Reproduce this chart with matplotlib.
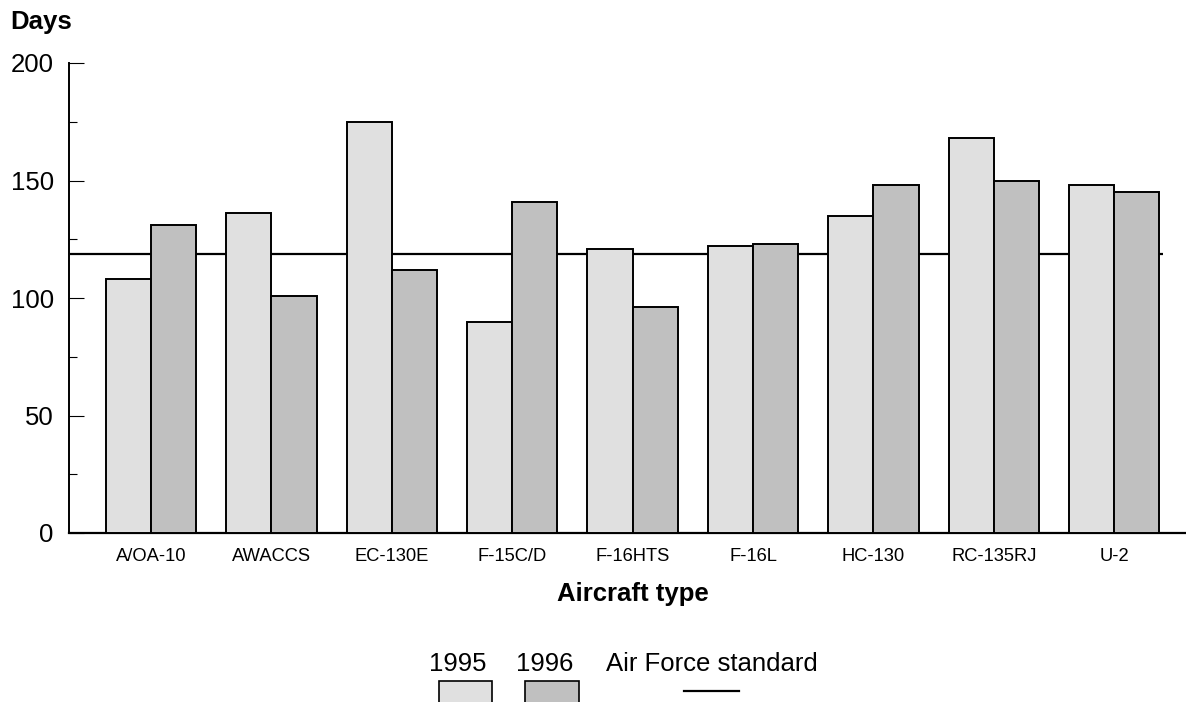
import matplotlib
matplotlib.use("Agg")
import matplotlib.pyplot as plt
from matplotlib import font_manager
from matplotlib.patches import Rectangle
from matplotlib.lines import Line2D
from matplotlib.transforms import blended_transform_factory
import numpy as np

# data
aircraft = ["A/OA-10", "AWACCS", "EC-130E", "F-15C/D", "F-16HTS",
            "F-16L", "HC-130", "RC-135RJ", "U-2"]
days_1995 = [108, 136, 175, 90, 121, 122, 135, 168, 148]
days_1996 = [131, 101, 112, 141, 96, 123, 148, 150, 145]
af_standard = 118.6
years = ["1995", "1996"]
colors = ["#e0e0e0", "#c0c0c0"]

installed = {f.name for f in font_manager.fontManager.ttflist}
narrow = "Liberation Sans Narrow" if "Liberation Sans Narrow" in installed else None
plt.rcParams["font.family"] = ["Liberation Sans", "DejaVu Sans"]

W, H = 1186, 702
fig = plt.figure(figsize=(W / 100, H / 100), dpi=100)
ax = fig.add_axes([69 / W, 1 - 533 / H, 1 - 69 / W, (533 - 63) / H])

x = np.arange(len(aircraft))
bw = 0.375
ax.bar(x - bw / 2, days_1995, bw, color=colors[0], edgecolor="black",
       linewidth=1.4, zorder=3)
ax.bar(x + bw / 2, days_1996, bw, color=colors[1], edgecolor="black",
       linewidth=1.4, zorder=3)
ax.hlines(af_standard, -0.67, 8.405, color="black", linewidth=1.6, zorder=2)

ax.set_xlim(-0.681, 8.596)
ax.set_ylim(0, 200)
for s in ["top", "right"]:
    ax.spines[s].set_visible(False)
ax.spines["left"].set_linewidth(1.4)
ax.spines["bottom"].set_linewidth(1.6)

ax.set_yticks([0, 50, 100, 150, 200])
ax.set_yticks([25, 75, 125, 175], minor=True)
ax.tick_params(axis="y", which="major", direction="in", length=10.5,
               width=0.8, pad=11, labelsize=18.5)
ax.tick_params(axis="y", which="minor", direction="in", length=5.5, width=0.8)

ax.set_xticks(x)
if narrow:
    ax.set_xticklabels(aircraft, fontsize=15, family=narrow)
else:
    ax.set_xticklabels(aircraft, fontsize=13.2)
ax.tick_params(axis="x", length=0, pad=11)

# axis titles
trans = blended_transform_factory(ax.transData, fig.transFigure)
ax.text(4, 1 - 600.7 / H, "Aircraft type", transform=trans, ha="center",
        va="baseline", fontsize=18.5, fontweight="bold")
fig.text(10 / W, 1 - 29.3 / H, "Days", ha="left", va="baseline",
         fontsize=18.5, fontweight="bold")

# legend drawn by hand below the chart
base = 1 - 670.7 / H
fig.text(458 / W, base, years[0], ha="center", va="baseline", fontsize=18.5)
fig.text(544.7 / W, base, years[1], ha="center", va="baseline", fontsize=18.5)
fig.text(711.7 / W, base, "Air Force standard", ha="center", va="baseline",
         fontsize=18.5)
for x0, c in zip([438.7, 525.3], colors):
    fig.patches.append(Rectangle((x0 / W, 1 - 715 / H), 53.5 / W, 34.3 / H,
                                 transform=fig.transFigure, facecolor=c,
                                 edgecolor="black", linewidth=1.2))
fig.lines.append(Line2D([684 / W, 739.3 / W], [1 - 691 / H, 1 - 691 / H],
                        transform=fig.transFigure, color="black", linewidth=1.6))

fig.savefig("out.png", dpi=100)
